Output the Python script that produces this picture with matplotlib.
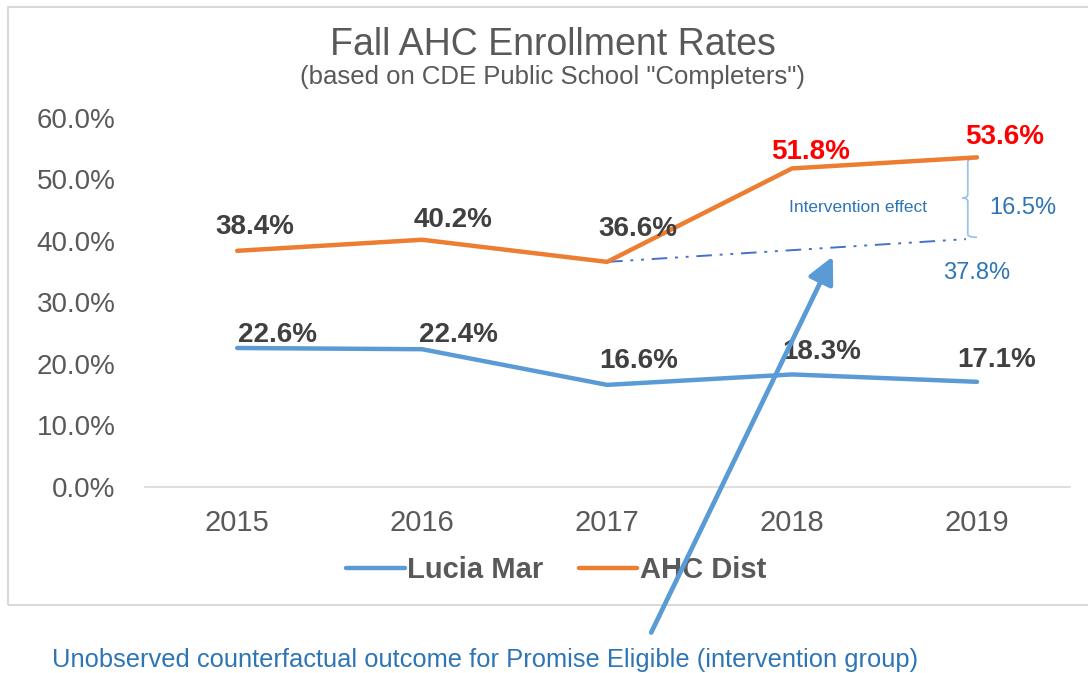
import matplotlib
matplotlib.use("Agg")
import matplotlib.pyplot as plt
from matplotlib.patches import Rectangle, FancyArrowPatch, PathPatch
from matplotlib.path import Path

years = ["2015", "2016", "2017", "2018", "2019"]
lucia_mar = [22.6, 22.4, 16.6, 18.3, 17.1]
ahc_dist = [38.4, 40.2, 36.6, 51.8, 53.6]
# counterfactual trend drawn from 2017 toward 2019
cf_x = [2, 3.94]
cf_y = [36.6, 40.3]
effect = "16.5%"
counterfactual = "37.8%"
y_ticks = [0, 10, 20, 30, 40, 50, 60]

base = "Liberation Sans"

ORANGE = "#ED7D31"
BLUE = "#5B9BD5"
GRAY = "#595959"
DARK = "#404040"
TXTBLUE = "#2E75B6"

fig = plt.figure(figsize=(10.88, 6.73), dpi=100)
ax = fig.add_axes([0.133, 0.2764, 0.850, 0.5483])

x = list(range(len(years)))
ax.plot(x, lucia_mar, color=BLUE, lw=3.2, solid_capstyle="round", label="Lucia Mar", zorder=3)
ax.plot(x, ahc_dist, color=ORANGE, lw=3.2, solid_capstyle="round", label="AHC Dist", zorder=3)
ax.plot(cf_x, cf_y, color="#4472C4", lw=1.4, dashes=[8, 4, 1.5, 4, 1.5, 4], zorder=2)

ax.set_xlim(-0.5, 4.5)
ax.set_ylim(0, 60)
ax.set_xticks(x)
ax.set_xticklabels(years, fontsize=21, color=GRAY, family=base)
ax.set_yticks(y_ticks)
ax.set_yticklabels([f"{v:.1f}%" for v in y_ticks], fontsize=20, color=GRAY, family=base)
ax.tick_params(length=0)
ax.tick_params(axis="x", pad=16)
ax.tick_params(axis="y", pad=21)
for s in ["top", "right", "left"]:
    ax.spines[s].set_visible(False)
ax.spines["bottom"].set_color("#D9D9D9")
ax.spines["bottom"].set_linewidth(1.2)

# data labels (offsets in points)
ahc_off = [(13, 17), (22, 14), (22, 24), (13, 12), (20, 15)]
ahc_col = [DARK, DARK, DARK, "#FF0000", "#FF0000"]
for i, v in enumerate(ahc_dist):
    ax.annotate(f"{v}%", (x[i], v), xytext=ahc_off[i], textcoords="offset points",
                ha="center", va="center", fontsize=20, fontweight="bold",
                color=ahc_col[i], family=base, zorder=4)
lm_off = [(29, 9), (26, 10), (23, 17), (21, 16), (14, 16)]
for i, v in enumerate(lucia_mar):
    ax.annotate(f"{v}%", (x[i], v), xytext=lm_off[i], textcoords="offset points",
                ha="center", va="center", fontsize=20, fontweight="bold",
                color=DARK, family=base, zorder=4)

# intervention effect brace "{"
bx, top, bot = 3.95, ahc_dist[4] - 0.2, cf_y[1] + 0.3
mid = (top + bot) / 2
brace = Path([(bx + 0.05, top), (bx, top), (bx, top - 0.5),
              (bx, mid + 0.6), (bx, mid), (bx - 0.03, mid),
              (bx, mid), (bx, mid - 0.6),
              (bx, bot + 0.5), (bx, bot), (bx + 0.05, bot)],
             [Path.MOVETO, Path.CURVE3, Path.CURVE3,
              Path.LINETO, Path.CURVE3, Path.CURVE3,
              Path.CURVE3, Path.CURVE3,
              Path.LINETO, Path.CURVE3, Path.CURVE3])
ax.add_patch(PathPatch(brace, fill=False, edgecolor="#9DC3E6", lw=1.3))
ax.text(3.354, 45.4, "Intervention effect", ha="center", va="center",
        fontsize=12.5, color=TXTBLUE, family=base)
ax.text(4.25, 45.4, effect, ha="center", va="center", fontsize=17, color=TXTBLUE, family=base)
ax.text(4.0, 34.8, counterfactual, ha="center", va="center", fontsize=17, color=TXTBLUE, family=base)

ax.legend(loc="center", bbox_to_anchor=(0.445, -0.225), ncol=2, frameon=False,
          prop={"family": base, "weight": "bold", "size": 21}, labelcolor=GRAY,
          handlelength=2.0, handletextpad=0.1, columnspacing=1.2)

fig.text(0.508, 0.933, "Fall AHC Enrollment Rates", ha="center", va="center",
         fontsize=27, color=GRAY, family=base)
fig.text(0.508, 0.886, '(based on CDE Public School "Completers")', ha="center", va="center",
         fontsize=18.5, color=GRAY, family=base)

# chart frame
fig.add_artist(Rectangle((0.007, 0.101), 1.2, 0.888, transform=fig.transFigure,
                         fill=False, edgecolor="#D9D9D9", lw=1.5))

# arrow pointing at counterfactual line
fig.add_artist(FancyArrowPatch(
    (650 / 1088, 1 - 635 / 673), (834 / 1088, 1 - 254 / 673), transform=fig.transFigure,
    arrowstyle="-|>,head_length=16,head_width=8", color=BLUE, lw=3.4, zorder=5))

fig.text(0.048, 0.019, "Unobserved counterfactual outcome for Promise Eligible (intervention group)",
         ha="left", va="center", fontsize=18.4, color=TXTBLUE, family=base)

fig.savefig("out.png", dpi=100)
